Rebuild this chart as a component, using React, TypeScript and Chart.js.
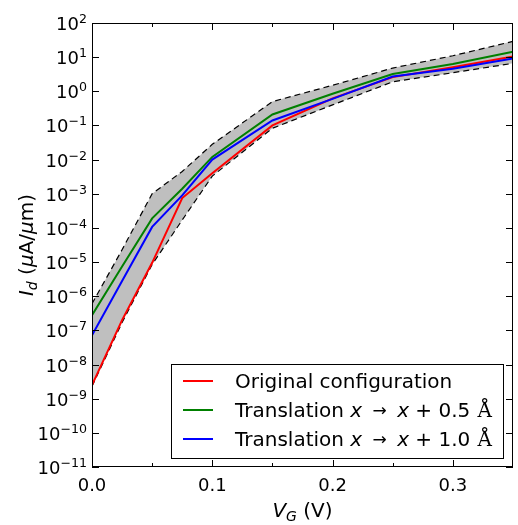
import React, { useEffect, useRef } from "react";
import { Chart, registerables } from "chart.js";

Chart.register(...registerables);

// ---------- data ----------
const vg = [0, 0.025, 0.05, 0.075, 0.1, 0.15, 0.2, 0.25, 0.3, 0.35];
const original = [2.5e-9, 2.0e-7, 9.5e-6, 7.5e-4, 4.0e-3, 0.1, 0.62, 2.6, 5.1, 10.5];
const trans05 = [2.8e-7, 7.4e-6, 1.9e-4, 1.4e-3, 1.2e-2, 0.21, 0.85, 3.2, 6.3, 14.5];
const trans10 = [7.2e-8, 2.8e-6, 1.07e-4, 9.0e-4, 1.0e-2, 0.14, 0.6, 2.7, 4.6, 9.2];
const bandUpper = [6.0e-7, 2.3e-5, 1.0e-3, 4.5e-3, 2.8e-2, 0.5, 1.5, 4.8, 11, 29];
const bandLower = [2.3e-9, 1.7e-7, 8.5e-6, 1.7e-4, 3.3e-3, 0.083, 0.4, 1.9, 3.5, 6.6];

const seriesLabels = [
  "Original configuration",
  "Translation x → x + 0.5 Å",
  "Translation x → x + 1.0 Å",
];
const seriesColors = ["#ff0000", "#008000", "#0000ff"];

const xMajorTicks = [0, 0.1, 0.2, 0.3];
const xMajorLabels = ["0.0", "0.1", "0.2", "0.3"];
const xMinorTicks = [0.05, 0.15, 0.25];
const yExponents = [2, 1, 0, -1, -2, -3, -4, -5, -6, -7, -8, -9, -10, -11];

// ---------- rich text helpers ----------
type Part = { t: string; it?: boolean; size: number; dy?: number; fam?: string; pad?: number };
const SANS = "'DejaVu Sans'";
const fontOf = (p: Part) => `${p.it ? "italic " : ""}${p.size}px ${p.fam ?? SANS}`;
function measureParts(ctx: CanvasRenderingContext2D, parts: Part[]) {
  let w = 0;
  for (const p of parts) {
    ctx.font = fontOf(p);
    w += ctx.measureText(p.t).width + 2 * (p.pad ?? 0);
  }
  return w;
}
function drawParts(ctx: CanvasRenderingContext2D, x: number, y: number, parts: Part[]) {
  let cx = x;
  for (const p of parts) {
    ctx.font = fontOf(p);
    cx += p.pad ?? 0;
    ctx.fillText(p.t, cx, y + (p.dy ?? 0));
    cx += ctx.measureText(p.t).width + (p.pad ?? 0);
  }
}
function labelParts(label: string, size: number): Part[] {
  return label.split(/(\s+)/).filter((s) => s.length).map((tok) => {
    if (tok === "x") return { t: tok, it: true, size };
    if (tok === "→") return { t: tok, size: size * 0.85, pad: 4, dy: -1 };
    if (tok === "Å") return { t: tok, size, fam: "'DejaVu Serif'", pad: 1 };
    return { t: tok, size };
  });
}

const decor = {
  id: "decor",
  afterDraw(chart: any) {
    const { ctx, chartArea: a, scales } = chart;
    const xs = scales.x;
    const ys = scales.y;
    ctx.save();
    ctx.fillStyle = "#000";
    ctx.strokeStyle = "#000";
    ctx.lineWidth = 1;
    ctx.textBaseline = "alphabetic";
    ctx.textAlign = "left";

    // frame
    ctx.strokeRect(a.left + 0.5, a.top + 0.5, a.right - a.left - 1, a.bottom - a.top - 1);

    // x ticks
    const xt = (v: number, len: number) => {
      const px = Math.round(xs.getPixelForValue(v)) + 0.5;
      ctx.beginPath();
      ctx.moveTo(px, a.bottom);
      ctx.lineTo(px, a.bottom - len);
      ctx.moveTo(px, a.top);
      ctx.lineTo(px, a.top + len);
      ctx.stroke();
    };
    xMajorTicks.forEach((v) => xt(v, 7));
    xMinorTicks.forEach((v) => xt(v, 4));
    xMajorTicks.forEach((v, i) => {
      const px = xs.getPixelForValue(v);
      const parts: Part[] = [{ t: xMajorLabels[i], size: 18 }];
      const w = measureParts(ctx, parts);
      drawParts(ctx, px - w / 2, a.bottom + 24, parts);
    });

    // y ticks
    yExponents.forEach((e) => {
      const py = Math.round(ys.getPixelForValue(Math.pow(10, e))) + 0.5;
      ctx.beginPath();
      ctx.moveTo(a.left, py);
      ctx.lineTo(a.left + 7, py);
      ctx.moveTo(a.right, py);
      ctx.lineTo(a.right - 7, py);
      ctx.stroke();
      const expStr = e < 0 ? "\u2212" + String(-e) : String(e);
      const parts: Part[] = [
        { t: "10", size: 18 },
        { t: expStr, size: 12.6, dy: -7.5 },
      ];
      const w = measureParts(ctx, parts);
      drawParts(ctx, a.left - 5 - w, py + 6.5, parts);
    });

    // x title
    const xTitle: Part[] = [
      { t: "V", it: true, size: 20 },
      { t: "G", it: true, size: 14, dy: 4 },
      { t: " (V)", size: 20 },
    ];
    const xw = measureParts(ctx, xTitle);
    drawParts(ctx, (a.left + a.right) / 2 - xw / 2, 517, xTitle);

    // y title
    const yTitle: Part[] = [
      { t: "I", it: true, size: 20 },
      { t: "d", it: true, size: 14, dy: 4 },
      { t: " (", size: 20 },
      { t: "μ", it: true, size: 20 },
      { t: "A/", size: 20 },
      { t: "μ", it: true, size: 20 },
      { t: "m)", size: 20 },
    ];
    const yw = measureParts(ctx, yTitle);
    ctx.save();
    ctx.translate(33, (a.top + a.bottom) / 2);
    ctx.rotate(-Math.PI / 2);
    drawParts(ctx, -yw / 2, 0, yTitle);
    ctx.restore();

    // legend
    const bx = 171.5, by = 364.5, bw = 332, bh = 94;
    ctx.fillStyle = "#fff";
    ctx.fillRect(bx, by, bw, bh);
    ctx.strokeRect(bx, by, bw, bh);
    const rows = [381, 410, 439];
    seriesLabels.forEach((lab, i) => {
      const ry = rows[i];
      ctx.strokeStyle = seriesColors[i];
      ctx.lineWidth = 2;
      ctx.beginPath();
      ctx.moveTo(183, ry);
      ctx.lineTo(213, ry);
      ctx.stroke();
      ctx.fillStyle = "#000";
      drawParts(ctx, 235, ry + 7, labelParts(lab, 20));
    });
    ctx.restore();
  },
};

export default function App() {
  const ref = useRef<HTMLCanvasElement>(null);
  useEffect(() => {
    const toPts = (ys: number[]) => vg.map((x, i) => ({ x, y: ys[i] }));
    const chart = new Chart(ref.current as HTMLCanvasElement, {
      type: "line",
      data: {
        datasets: [
          { label: seriesLabels[0], data: toPts(original), borderColor: seriesColors[0], borderWidth: 2, fill: false, order: 2 },
          { label: seriesLabels[1], data: toPts(trans05), borderColor: seriesColors[1], borderWidth: 2, fill: false, order: 1 },
          { label: seriesLabels[2], data: toPts(trans10), borderColor: seriesColors[2], borderWidth: 2, fill: false, order: 0 },
          { label: "upper", data: toPts(bandUpper), borderColor: "#000", borderWidth: 1.2, borderDash: [6, 4], fill: "+1", backgroundColor: "#bfbfbf", order: 4 },
          { label: "lower", data: toPts(bandLower), borderColor: "#000", borderWidth: 1.2, borderDash: [6, 4], fill: false, order: 3 },
        ],
      } as any,
      options: {
        animation: false,
        responsive: false,
        devicePixelRatio: 1,
        layout: { padding: { left: 92, right: 5, top: 23, bottom: 58 } },
        elements: { point: { radius: 0 }, line: { tension: 0 } },
        plugins: {
          legend: { display: false },
          tooltip: { enabled: false },
          filler: { propagate: false },
        },
        scales: {
          x: { type: "linear", display: false, min: 0, max: 0.35 },
          y: { type: "logarithmic", display: false, min: 1e-11, max: 1e2 },
        },
      } as any,
      plugins: [decor],
    });
    return () => chart.destroy();
  }, []);
  return (
    <div style={{ position: "fixed", left: 0, top: 0, width: 518, height: 525, background: "#fff" }}>
      <canvas ref={ref} width={518} height={525} style={{ width: 518, height: 525, display: "block" }} />
    </div>
  );
}
